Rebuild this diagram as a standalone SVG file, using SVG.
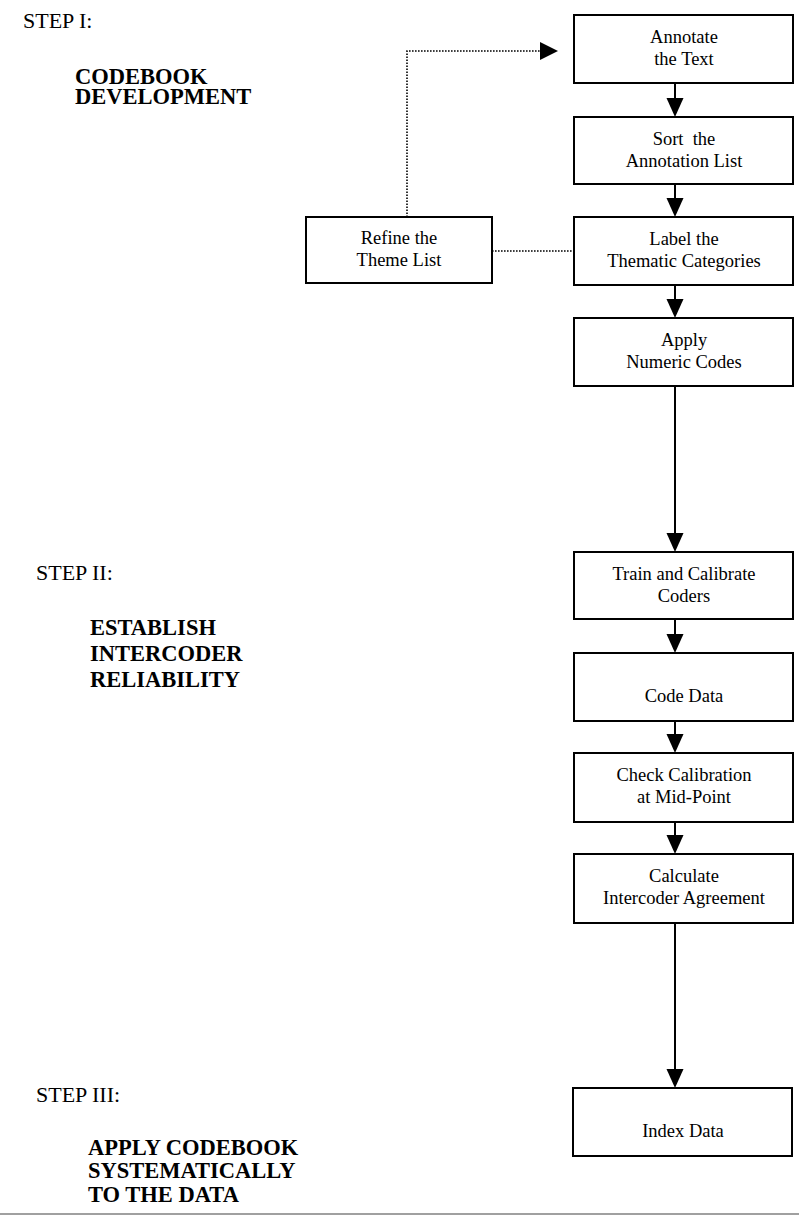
<svg xmlns="http://www.w3.org/2000/svg" width="799" height="1222" viewBox="0 0 799 1222">
<defs>
<style>
.box{fill:#fff;stroke:#000;stroke-width:2}
.t{font-family:"Liberation Serif","Times New Roman",serif;font-size:18.5px;fill:#000;text-anchor:middle}
.step{font-family:"Liberation Serif","Times New Roman",serif;font-size:22px;fill:#000}
.title{font-family:"Liberation Serif","Times New Roman",serif;font-size:22.5px;font-weight:bold;fill:#000}
.arr{stroke:#000;stroke-width:2;fill:none}
.dot{stroke:#000;stroke-width:1.6;fill:none;stroke-dasharray:1.6 1.4}
.head{fill:#000}
</style>
</defs>
<rect width="799" height="1222" fill="#fff"/>
<g id="labels">
<text class="step" x="23" y="28">STEP I:</text>
<text class="title" x="75" y="84">CODEBOOK</text>
<text class="title" x="75" y="104">DEVELOPMENT</text>
<text class="step" x="36" y="580">STEP II:</text>
<text class="title" x="90" y="635">ESTABLISH</text>
<text class="title" x="90" y="661">INTERCODER</text>
<text class="title" x="90" y="687">RELIABILITY</text>
<text class="step" x="36" y="1102">STEP III:</text>
<text class="title" x="88" y="1155">APPLY CODEBOOK</text>
<text class="title" x="88" y="1178">SYSTEMATICALLY</text>
<text class="title" x="88" y="1202">TO THE DATA</text>
</g>
<g id="connectors">
<line class="arr" x1="675" y1="83" x2="675" y2="99"/><polygon class="head" points="666.5,98 683.5,98 675,117"/>
<line class="arr" x1="675" y1="184" x2="675" y2="199"/><polygon class="head" points="666.5,198 683.5,198 675,217"/>
<line class="arr" x1="675" y1="285" x2="675" y2="300"/><polygon class="head" points="666.5,299 683.5,299 675,318"/>
<line class="arr" x1="675" y1="386" x2="675" y2="534"/><polygon class="head" points="666.5,533 683.5,533 675,552"/>
<line class="arr" x1="675" y1="619" x2="675" y2="635"/><polygon class="head" points="666.5,634 683.5,634 675,653"/>
<line class="arr" x1="675" y1="721" x2="675" y2="735"/><polygon class="head" points="666.5,734 683.5,734 675,753"/>
<line class="arr" x1="675" y1="822" x2="675" y2="836"/><polygon class="head" points="666.5,835 683.5,835 675,854"/>
<line class="arr" x1="675" y1="923" x2="675" y2="1070"/><polygon class="head" points="666.5,1069 683.5,1069 675,1088"/>
<polyline class="dot" points="407,217 407,51 541,51"/><polygon class="head" points="540,42 540,60 558,51"/>
<line class="dot" x1="492" y1="251" x2="574" y2="251"/>
</g>
<g id="n1"><rect class="box" x="574" y="15" width="219" height="68"/><text class="t" x="684" y="43">Annotate</text><text class="t" x="684" y="65">the Text</text></g>
<g id="n2"><rect class="box" x="574" y="117" width="219" height="67"/><text class="t" x="684" y="145" xml:space="preserve">Sort  the</text><text class="t" x="684" y="167">Annotation List</text></g>
<g id="n3"><rect class="box" x="574" y="217" width="219" height="68"/><text class="t" x="684" y="245">Label the</text><text class="t" x="684" y="267">Thematic Categories</text></g>
<g id="n4"><rect class="box" x="306" y="217" width="186" height="66"/><text class="t" x="399" y="244">Refine the</text><text class="t" x="399" y="266">Theme List</text></g>
<g id="n5"><rect class="box" x="574" y="318" width="219" height="68"/><text class="t" x="684" y="346">Apply</text><text class="t" x="684" y="368">Numeric Codes</text></g>
<g id="n6"><rect class="box" x="574" y="552" width="219" height="67"/><text class="t" x="684" y="580">Train and Calibrate</text><text class="t" x="684" y="602">Coders</text></g>
<g id="n7"><rect class="box" x="574" y="653" width="219" height="68"/><text class="t" x="684" y="702">Code Data</text></g>
<g id="n8"><rect class="box" x="574" y="753" width="219" height="69"/><text class="t" x="684" y="781">Check Calibration</text><text class="t" x="684" y="803">at Mid-Point</text></g>
<g id="n9"><rect class="box" x="574" y="854" width="219" height="69"/><text class="t" x="684" y="882">Calculate</text><text class="t" x="684" y="904">Intercoder Agreement</text></g>
<g id="n10"><rect class="box" x="573" y="1088" width="219" height="68"/><text class="t" x="683" y="1137">Index Data</text></g>
<line x1="0" y1="1214" x2="799" y2="1214" stroke="#a0a0a0" stroke-width="2"/>
</svg>
